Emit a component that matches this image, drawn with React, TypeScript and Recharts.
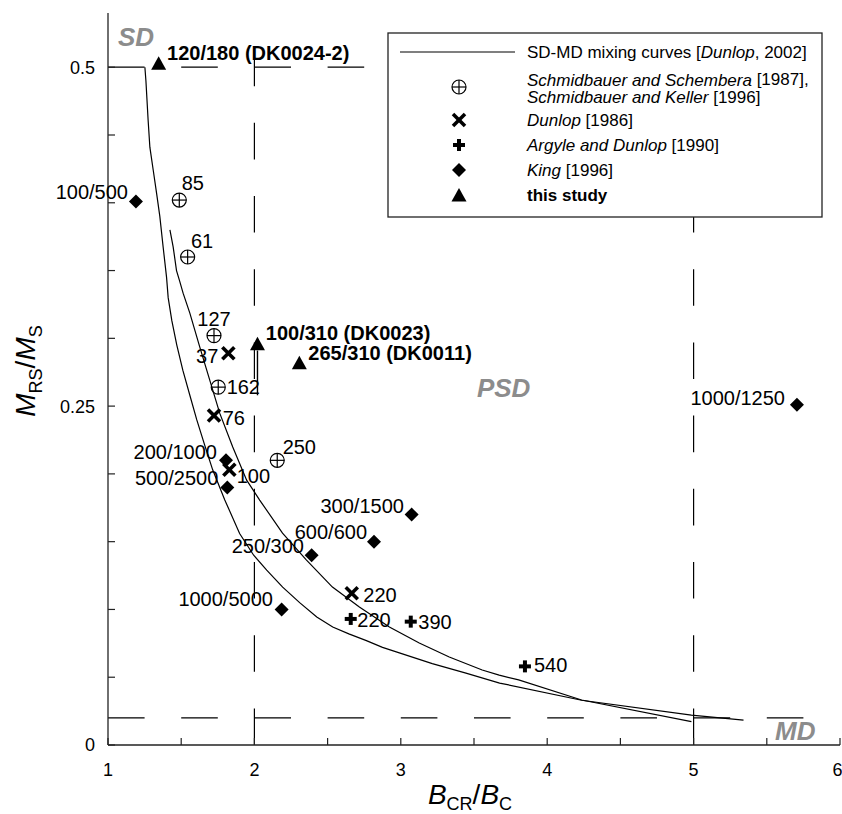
import React from 'react';
import { ComposedChart, XAxis, YAxis, Line, Scatter, ReferenceLine, Label } from 'recharts';

// ---------- axis ticks ----------
const xTicks = [1, 1.5, 2, 2.5, 3, 3.5, 4, 4.5, 5, 5.5, 6];
const xTickLabels = [1, 2, 3, 4, 5, 6];
const yTicks = [0, 0.05, 0.1, 0.15, 0.2, 0.25, 0.3, 0.35, 0.4, 0.45, 0.5];
const yTickLabels = [0, 0.25, 0.5];

// ---------- domain boundaries ----------
const sdBoundary = 0.5;
const mdBoundary = 0.02;
const psdLeft = 2;
const psdRight = 5;

// ---------- SD-MD mixing curves [Dunlop, 2002] ----------
const mixingCurve1 = [
  { x: 1.252, y: 0.5 }, { x: 1.259, y: 0.49 }, { x: 1.274, y: 0.461 }, { x: 1.286, y: 0.441 },
  { x: 1.309, y: 0.424 }, { x: 1.332, y: 0.407 }, { x: 1.354, y: 0.39 }, { x: 1.377, y: 0.367 },
  { x: 1.4, y: 0.345 }, { x: 1.411, y: 0.33 }, { x: 1.436, y: 0.313 }, { x: 1.47, y: 0.295 },
  { x: 1.511, y: 0.2765 }, { x: 1.559, y: 0.258 }, { x: 1.606, y: 0.24 }, { x: 1.661, y: 0.221 },
  { x: 1.715, y: 0.203 }, { x: 1.797, y: 0.181 }, { x: 1.899, y: 0.156 }, { x: 1.995, y: 0.14 },
  { x: 2.084, y: 0.129 }, { x: 2.193, y: 0.1165 }, { x: 2.309, y: 0.105 }, { x: 2.426, y: 0.0944 },
  { x: 2.535, y: 0.087 }, { x: 2.645, y: 0.082 }, { x: 2.765, y: 0.077 }, { x: 2.875, y: 0.072 },
  { x: 2.99, y: 0.068 }, { x: 3.215, y: 0.06 }, { x: 3.445, y: 0.053 }, { x: 3.675, y: 0.0457 },
  { x: 4.235, y: 0.033 }, { x: 4.985, y: 0.0221 }, { x: 5.341, y: 0.0184 },
];
const mixingCurve2 = [
  { x: 1.423, y: 0.38 }, { x: 1.445, y: 0.3675 }, { x: 1.468, y: 0.35 }, { x: 1.49, y: 0.342 },
  { x: 1.513, y: 0.3333 }, { x: 1.559, y: 0.3186 }, { x: 1.627, y: 0.2935 }, { x: 1.695, y: 0.2692 },
  { x: 1.763, y: 0.2448 }, { x: 1.852, y: 0.2198 }, { x: 1.947, y: 0.1954 }, { x: 2.036, y: 0.1807 },
  { x: 2.192, y: 0.1563 }, { x: 2.356, y: 0.1364 }, { x: 2.533, y: 0.1165 }, { x: 2.717, y: 0.1018 },
  { x: 2.922, y: 0.087 }, { x: 3.126, y: 0.0752 }, { x: 3.331, y: 0.0649 }, { x: 3.556, y: 0.0553 },
  { x: 3.672, y: 0.0516 }, { x: 3.805, y: 0.048 }, { x: 4.235, y: 0.0332 }, { x: 4.985, y: 0.0172 },
];

// ---------- data sets ----------
const schmidbauer = [
  { x: 1.487, y: 0.402, label: '85' },
  { x: 1.544, y: 0.36, label: '61' },
  { x: 1.724, y: 0.302, label: '127' },
  { x: 1.753, y: 0.264, label: '162' },
  { x: 2.156, y: 0.21, label: '250' },
];
const dunlop1986 = [
  { x: 1.822, y: 0.289, label: '37' },
  { x: 1.724, y: 0.243, label: '76' },
  { x: 1.829, y: 0.203, label: '100' },
  { x: 2.665, y: 0.112, label: '220' },
];
const argyleDunlop1990 = [
  { x: 2.658, y: 0.093, label: '220' },
  { x: 3.068, y: 0.091, label: '390' },
  { x: 3.848, y: 0.058, label: '540' },
];
const king1996 = [
  { x: 1.191, y: 0.401, label: '100/500' },
  { x: 1.806, y: 0.21, label: '200/1000' },
  { x: 1.815, y: 0.19, label: '500/2500' },
  { x: 3.074, y: 0.17, label: '300/1500' },
  { x: 2.817, y: 0.15, label: '600/600' },
  { x: 2.391, y: 0.14, label: '250/300' },
  { x: 2.186, y: 0.1, label: '1000/5000' },
  { x: 5.706, y: 0.251, label: '1000/1250' },
];
const thisStudy = [
  { x: 1.346, y: 0.503, label: '120/180 (DK0024-2)' },
  { x: 2.021, y: 0.296, label: '100/310 (DK0023)' },
  { x: 2.307, y: 0.282, label: '265/310 (DK0011)' },
];
const dk0023Arrow = [
  { x: 2.021, y: 0.258 },
  { x: 2.021, y: 0.291 },
];
const regionLabels = [
  { x: 1.068, y: 0.516, label: 'SD' },
  { x: 3.52, y: 0.2567, label: 'PSD' },
  { x: 5.556, y: 0.0037, label: 'MD' },
];

// ---------- label placement (dx, dy from marker centre, anchor) ----------
const placements: Record<string, [number, number, 'start' | 'end' | 'middle']> = {
  'S|85': [2.4, -17.5, 'start'],
  'S|61': [3.3, -16, 'start'],
  'S|127': [0, -16.5, 'middle'],
  'S|162': [8.4, 0, 'start'],
  'S|250': [5.4, -13, 'start'],
  'D|37': [-10, 3, 'end'],
  'D|76': [8.7, 2, 'start'],
  'D|100': [7.4, 6, 'start'],
  'D|220': [11.6, 2, 'start'],
  'A|220': [6.6, 1, 'start'],
  'A|390': [7.6, 0, 'start'],
  'A|540': [9, -1, 'start'],
  'K|100/500': [-8, -9, 'end'],
  'K|200/1000': [-9, -8, 'end'],
  'K|500/2500': [-9, -9, 'end'],
  'K|300/1500': [-7.7, -9, 'end'],
  'K|600/600': [-7, -9.7, 'end'],
  'K|250/300': [-7.7, -9, 'end'],
  'K|1000/5000': [-8.7, -10, 'end'],
  'K|1000/1250': [-12, -7, 'end'],
  'T|120/180 (DK0024-2)': [8.4, -10, 'start'],
  'T|100/310 (DK0023)': [8.3, -11, 'start'],
  'T|265/310 (DK0011)': [9, -9.5, 'start'],
};

const FONT = '"Liberation Sans", Arial, Helvetica, sans-serif';
const LABEL_SIZE = 20;
const BOLD_LABEL_SIZE = 20;

// ---------- markers ----------
type M = { cx: number; cy: number };
const CirclePlus = ({ cx, cy }: M) => (
  <g stroke="#000" strokeWidth={1.2} fill="none">
    <circle cx={cx} cy={cy} r={7} />
    <line x1={cx - 7} x2={cx + 7} y1={cy} y2={cy} />
    <line x1={cx} x2={cx} y1={cy - 7} y2={cy + 7} />
  </g>
);
const Cross = ({ cx, cy }: M) => (
  <g stroke="#000" strokeWidth={3.6}>
    <line x1={cx - 6} x2={cx + 6} y1={cy - 6} y2={cy + 6} />
    <line x1={cx - 6} x2={cx + 6} y1={cy + 6} y2={cy - 6} />
  </g>
);
const Plus = ({ cx, cy }: M) => (
  <g stroke="#000" strokeWidth={4}>
    <line x1={cx - 6} x2={cx + 6} y1={cy} y2={cy} />
    <line x1={cx} x2={cx} y1={cy - 6} y2={cy + 6} />
  </g>
);
const Diamond = ({ cx, cy }: M) => (
  <polygon points={`${cx},${cy - 7} ${cx + 7},${cy} ${cx},${cy + 7} ${cx - 7},${cy}`} fill="#000" />
);
const Triangle = ({ cx, cy }: M) => (
  <polygon points={`${cx},${cy - 7} ${cx + 7.5},${cy + 6.5} ${cx - 7.5},${cy + 6.5}`} fill="#000" />
);

const makeShape = (series: string, Marker: (p: M) => React.ReactElement, bold = false) => (props: any) => {
  const { cx, cy, payload } = props;
  if (cx == null || cy == null) return <g />;
  const p = placements[`${series}|${payload.label}`] || [8, 0, 'start'];
  return (
    <g>
      <Marker cx={cx} cy={cy} />
      <text
        x={cx + p[0]}
        y={cy + p[1]}
        textAnchor={p[2]}
        dominantBaseline="central"
        fontSize={bold ? BOLD_LABEL_SIZE : LABEL_SIZE}
        fontWeight={bold ? 'bold' : 'normal'}
        fill="#000"
        fontFamily={FONT}
      >
        {payload.label}
      </text>
    </g>
  );
};

const regionShape = (props: any) => {
  const { cx, cy, payload } = props;
  if (cx == null || cy == null) return <g />;
  return (
    <text x={cx} y={cy} fontSize={26} fontWeight="bold" fontStyle="italic" fill="#8c8c8c" fontFamily={FONT}>
      {payload.label}
    </text>
  );
};

const XTitle = (props: any) => {
  const vb = props.viewBox || { x: 108, y: 745, width: 732, height: 30 };
  const cx = vb.x + vb.width / 2 - 4;
  return (
    <text x={cx} y={804} textAnchor="middle" fontSize={28} fill="#000" fontFamily={FONT}>
      <tspan fontStyle="italic">B</tspan>
      <tspan fontSize={18} dy={6}>CR</tspan>
      <tspan dy={-6}>/</tspan>
      <tspan fontStyle="italic">B</tspan>
      <tspan fontSize={18} dy={6}>C</tspan>
    </text>
  );
};

const YTitle = () => {
  const cy = 371;
  return (
    <g transform={`translate(35,${cy}) rotate(-90)`}>
      <text x={0} y={0} textAnchor="middle" fontSize={28} fill="#000" fontFamily={FONT}>
        <tspan fontStyle="italic">M</tspan>
        <tspan fontSize={18} dy={7}>RS</tspan>
        <tspan dy={-7}>/</tspan>
        <tspan fontStyle="italic">M</tspan>
        <tspan fontSize={18} dy={7}>S</tspan>
      </text>
    </g>
  );
};

const LegendBox = () => {
  const rowText = 140;
  const sym = 72;
  return (
    <svg
      width={436}
      height={186}
      style={{ position: 'absolute', left: 387, top: 32, fontFamily: FONT }}
    >
      <rect x={1} y={1} width={434} height={184} fill="#fff" stroke="#222" strokeWidth={1.3} />
      <line x1={13} x2={128} y1={20} y2={20} stroke="#000" strokeWidth={1.2} />
      <text x={rowText} y={20} dominantBaseline="central" fontSize={17}>
        SD-MD mixing curves [<tspan fontStyle="italic">Dunlop</tspan>, 2002]
      </text>
      <CirclePlus cx={sym} cy={55} />
      <text x={rowText} y={47.5} dominantBaseline="central" fontSize={17}>
        <tspan fontStyle="italic">Schmidbauer and Schembera</tspan> [1987],
      </text>
      <text x={rowText} y={65} dominantBaseline="central" fontSize={17}>
        <tspan fontStyle="italic">Schmidbauer and Keller</tspan> [1996]
      </text>
      <Cross cx={sym} cy={88} />
      <text x={rowText} y={88} dominantBaseline="central" fontSize={17}>
        <tspan fontStyle="italic">Dunlop</tspan> [1986]
      </text>
      <Plus cx={sym} cy={113} />
      <text x={rowText} y={113} dominantBaseline="central" fontSize={17}>
        <tspan fontStyle="italic">Argyle and Dunlop</tspan> [1990]
      </text>
      <Diamond cx={sym} cy={138} />
      <text x={rowText} y={138} dominantBaseline="central" fontSize={17}>
        <tspan fontStyle="italic">King</tspan> [1996]
      </text>
      <Triangle cx={sym} cy={163} />
      <text x={rowText} y={163} dominantBaseline="central" fontSize={17} fontWeight="bold">
        this study
      </text>
    </svg>
  );
};

const dash = '36.6 36.6';
const AX = { xAxisId: 'b', yAxisId: 'l' };

export default function App() {
  return (
    <div style={{ position: 'absolute', left: 0, top: 0, width: 842, height: 814, fontFamily: FONT, background: '#fff' }}>
      <ComposedChart width={842} height={814} margin={{ top: 13, right: 2, bottom: 39, left: 0 }}>
        <XAxis
          xAxisId="b"
          type="number"
          dataKey="x"
          domain={[1, 6]}
          ticks={xTicks}
          height={30}
          tickSize={-7}
          tickMargin={25}
          axisLine={{ stroke: '#222', strokeWidth: 1.3 }}
          tickLine={{ stroke: '#222', strokeWidth: 1.2 }}
          tick={{ fill: '#000', fontSize: 18, fontFamily: FONT }}
          tickFormatter={(v: number) => (xTickLabels.includes(v) ? String(v) : '')}
        >
          <Label content={XTitle} />
        </XAxis>
        <XAxis
          xAxisId="t"
          orientation="top"
          type="number"
          dataKey="x"
          domain={[1, 6]}
          ticks={xTicks}
          allowDataOverflow
          height={0}
          tickSize={-7}
          axisLine={{ stroke: '#222', strokeWidth: 1.3 }}
          tickLine={{ stroke: '#222', strokeWidth: 1.2 }}
          tickFormatter={() => ''}
        />
        <YAxis
          yAxisId="l"
          type="number"
          domain={[0, 0.54]}
          ticks={yTicks}
          width={108}
          tickSize={-7}
          tickMargin={20}
          axisLine={{ stroke: '#222', strokeWidth: 1.3 }}
          tickLine={{ stroke: '#222', strokeWidth: 1.2 }}
          tick={{ fill: '#000', fontSize: 18, fontFamily: FONT }}
          tickFormatter={(v: number) => (yTickLabels.includes(v) ? String(v) : '')}
        >
          <Label content={YTitle} />
        </YAxis>
        <YAxis
          yAxisId="r"
          orientation="right"
          type="number"
          domain={[0, 0.54]}
          ticks={yTicks}
          allowDataOverflow
          width={0}
          tickSize={-7}
          axisLine={{ stroke: '#222', strokeWidth: 1.3 }}
          tickLine={{ stroke: '#222', strokeWidth: 1.2 }}
          tickFormatter={() => ''}
        />

        <ReferenceLine {...AX} segment={[{ x: 1, y: sdBoundary }, { x: 6, y: sdBoundary }]} stroke="#000" strokeWidth={1.2} strokeDasharray={dash} />
        <ReferenceLine {...AX} segment={[{ x: 1, y: mdBoundary }, { x: 6, y: mdBoundary }]} stroke="#000" strokeWidth={1.2} strokeDasharray={dash} />
        <ReferenceLine {...AX} segment={[{ x: psdLeft, y: 0 }, { x: psdLeft, y: 0.54 }]} stroke="#000" strokeWidth={1.2} strokeDasharray={dash} />
        <ReferenceLine {...AX} segment={[{ x: psdRight, y: 0 }, { x: psdRight, y: 0.54 }]} stroke="#000" strokeWidth={1.2} strokeDasharray={dash} />

        <Line {...AX} data={mixingCurve1} dataKey="y" type="linear" dot={false} stroke="#000" strokeWidth={1.2} isAnimationActive={false} />
        <Line {...AX} data={mixingCurve2} dataKey="y" type="linear" dot={false} stroke="#000" strokeWidth={1.2} isAnimationActive={false} />
        <Line {...AX} data={dk0023Arrow} dataKey="y" type="linear" dot={false} stroke="#000" strokeWidth={1.4} isAnimationActive={false} />

        <Scatter {...AX} data={regionLabels} dataKey="y" shape={regionShape} isAnimationActive={false} />
        <Scatter {...AX} data={schmidbauer} dataKey="y" shape={makeShape('S', CirclePlus)} isAnimationActive={false} />
        <Scatter {...AX} data={dunlop1986} dataKey="y" shape={makeShape('D', Cross)} isAnimationActive={false} />
        <Scatter {...AX} data={argyleDunlop1990} dataKey="y" shape={makeShape('A', Plus)} isAnimationActive={false} />
        <Scatter {...AX} data={king1996} dataKey="y" shape={makeShape('K', Diamond)} isAnimationActive={false} />
        <Scatter {...AX} data={thisStudy} dataKey="y" shape={makeShape('T', Triangle, true)} isAnimationActive={false} />
      </ComposedChart>
      <LegendBox />
    </div>
  );
}
